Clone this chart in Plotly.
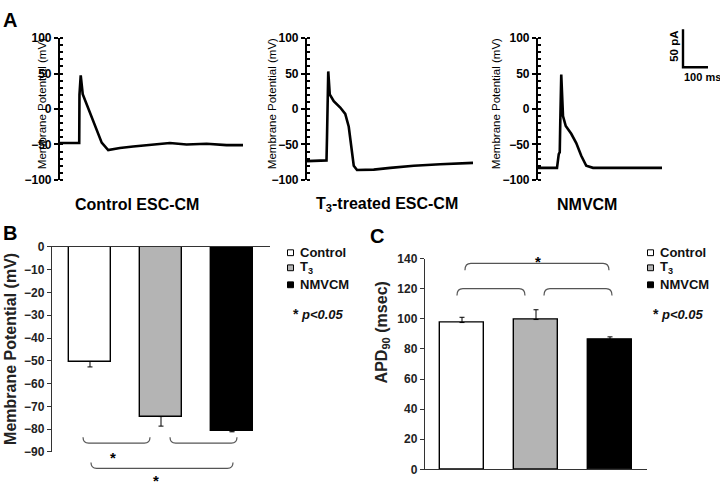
import plotly.graph_objects as go

# ---------------- data ----------------
# Panel A: action potential traces (time in ms, potential in mV)
t_control = [0, 77, 78, 83, 91, 130, 167, 193, 240, 293, 373, 440, 507, 587, 667, 733]
v_control = [-48, -48, 20, 47.5, 21, -14, -47.5, -58, -55, -53, -50, -48, -50, -49, -51, -51]

t_t3 = [0, 78, 80, 85, 91, 107, 133, 153, 167, 177, 187, 200, 267, 333, 427, 533, 664]
v_t3 = [-73.5, -72.5, -40, 53, 20.5, 11, 2, -7, -25, -57, -80, -86, -85.5, -83, -80, -78, -76]

t_nmvcm = [0, 76, 83, 87, 89, 93, 100, 111, 133, 153, 173, 193, 220, 300, 400, 496]
v_nmvcm = [-83, -83, -63.6, -61, -20, 48.6, -10, -24, -35, -48, -66, -80, -83, -83, -83, -83]

trace_titles = ["Control ESC-CM", "T<sub>3</sub>-treated ESC-CM", "NMVCM"]

# Panels B and C: group means and SEM
groups = ["Control", "T<sub>3</sub>", "NMVCM"]
group_colors = ["#ffffff", "#b4b4b4", "#000000"]
mp_values = [-50.3, -74.5, -80.8]      # membrane potential (mV)
mp_errors = [2.4, 4.2, 0.4]
apd_values = [97.5, 99.5, 86.0]        # APD90 (msec)
apd_errors = [3.5, 6.5, 2.0]

# significance brackets: (start, end) in group units
b_brackets = [(-0.098, 0.845), (1.127, 2.07), (0.014, 2.014)]
c_brackets = [(-0.068, 0.851), (1.108, 2.027), (0.04, 1.986)]

# ---------------- helpers ----------------
W, H = 720, 488
def px(x):
    return x / W
def py(y):
    return 1 - y / H

FONT = "Liberation Sans, Arial, sans-serif"
fig = go.Figure()

def label(x, y, text, size, weight="normal", angle=0, xanchor="center", color="black", style="normal"):
    fig.add_annotation(x=px(x), y=py(y), xref="paper", yref="paper", text=text,
                       textangle=angle, showarrow=False, xanchor=xanchor, yanchor="middle",
                       font=dict(family=FONT, size=size, color=color, weight=weight, style=style))

# ---------------- panel A ----------------
a_series = [(t_control, v_control), (t_t3, v_t3), (t_nmvcm, v_nmvcm)]
a_dom = [(60, 243), (307, 473), (538, 662)]
a_title_x = [42, 272, 496]
a_label_x = [137, 387, 587]
for i, ((t, v), (x0, x1)) in enumerate(zip(a_series, a_dom)):
    n = i + 1
    xa = "x" if n == 1 else f"x{n}"
    ya = "y" if n == 1 else f"y{n}"
    fig.add_trace(go.Scatter(x=t, y=v, mode="lines", line=dict(color="black", width=2.6),
                             xaxis=xa, yaxis=ya, showlegend=False, hoverinfo="skip"))
    fig.layout[f"xaxis{'' if n == 1 else n}"] = dict(
        domain=[px(x0), px(x1)], range=[0, t[-1]], visible=False, anchor=ya)
    fig.layout[f"yaxis{'' if n == 1 else n}"] = dict(
        domain=[py(178), py(32)], range=[-100, 100], anchor=xa,
        showline=True, linecolor="black", linewidth=2.2,
        ticks="outside", ticklen=4, tickwidth=2, tickcolor="black",
        dtick=50, tick0=0, showgrid=False, zeroline=False,
        minor=dict(dtick=10, ticks="inside", ticklen=3, tickwidth=1.5, tickcolor="black", showgrid=False),
        tickfont=dict(family=FONT, size=12, color="black", weight="bold"))
    label(a_title_x[i], 100, "Membrane Potential (mV)", 11.5, angle=-90)
    label(a_label_x[i], 203, trace_titles[i], 16, weight="bold")

# scale bar
fig.add_shape(type="path", xref="paper", yref="paper",
              path=f"M {px(683)} {py(23)} L {px(683)} {py(62)} L {px(708)} {py(62)}",
              line=dict(color="black", width=2.4))
label(674, 41, "50 pA", 11.5, weight="bold", angle=-90)
label(682, 72, "100 ms", 11, weight="bold", xanchor="left")

# ---------------- panel B ----------------
xs = list(range(len(groups)))
fig.add_trace(go.Bar(x=xs, y=mp_values, width=0.6, xaxis="x4", yaxis="y4",
                     marker=dict(color=group_colors, line=dict(color="black", width=1.4)),
                     error_y=dict(type="data", symmetric=False, array=[0] * 3, arrayminus=mp_errors,
                                  color="black", thickness=1, width=2.5),
                     showlegend=False, hoverinfo="skip"))
fig.layout.xaxis4 = dict(domain=[px(52), px(270)], range=[-0.535, 2.535], anchor="y4", side="top",
                         showline=True, linecolor="#333", linewidth=1.4, showticklabels=False,
                         ticks="", showgrid=False, zeroline=False)
fig.layout.yaxis4 = dict(domain=[py(458), py(247)], range=[-90, 0], anchor="x4", dtick=10,
                         showline=True, linecolor="#333", linewidth=1.4, ticks="outside",
                         ticklen=4, tickcolor="#333", showgrid=False, zeroline=False,
                         tickfont=dict(family=FONT, size=12, color="#222", weight="bold"))
label(11, 352, "Membrane Potential (mV)", 16, weight="bold", angle=-90, color="#222")

# ---------------- panel C ----------------
fig.add_trace(go.Bar(x=xs, y=apd_values, width=0.6, xaxis="x5", yaxis="y5",
                     marker=dict(color=group_colors, line=dict(color="black", width=1.4)),
                     error_y=dict(type="data", symmetric=False, array=apd_errors, arrayminus=[0] * 3,
                                  color="black", thickness=1, width=2.5),
                     showlegend=False, hoverinfo="skip"))
fig.layout.xaxis5 = dict(domain=[px(425), px(647)], range=[-0.5, 2.5], anchor="y5",
                         showline=True, linecolor="#333", linewidth=1.4, showticklabels=False,
                         ticks="", showgrid=False, zeroline=False)
fig.layout.yaxis5 = dict(domain=[py(476), py(259)], range=[0, 140], anchor="x5", dtick=20,
                         showline=True, linecolor="#333", linewidth=1.4, ticks="outside",
                         ticklen=4, tickcolor="#333", showgrid=False, zeroline=False,
                         tickfont=dict(family=FONT, size=12, color="#222", weight="bold"))
label(382, 335, "APD<sub>90</sub> (msec)", 16, weight="bold", angle=-90, color="#222")

# ---------------- brackets & stars ----------------
def brace(xa, x0, x1, y_end, y_mid, r):
    return dict(type="path", xref=xa, yref="paper",
                path=(f"M {x0} {py(y_end)} Q {x0} {py(y_mid)} {x0 + r} {py(y_mid)} "
                      f"L {x1 - r} {py(y_mid)} Q {x1} {py(y_mid)} {x1} {py(y_end)}"),
                line=dict(color="#555", width=1.2))

b_levels = [(443, 449), (443, 449), (469, 475)]
for (x0, x1), (ye, ym) in zip(b_brackets, b_levels):
    fig.add_shape(**brace("x4", x0, x1, ye, ym, 0.08))
c_levels = [(297, 290), (297, 290), (271, 264)]
for (x0, x1), (ye, ym) in zip(c_brackets, c_levels):
    fig.add_shape(**brace("x5", x0, x1, ye, ym, 0.08))

star_font = dict(family=FONT, size=15, color="black", weight="bold")
for xa, xv, yv in [("x4", 0.324, 464), ("x4", 0.93, 487), ("x5", 1.027, 262)]:
    fig.add_annotation(x=xv, y=py(yv), xref=xa, yref="paper", text="*", showarrow=False,
                       xanchor="center", yanchor="middle", font=star_font)

# ---------------- legends ----------------
for lx in (290.5, 650.5):
    for j, (name, col, ly) in enumerate(zip(groups, group_colors, [253, 268.5, 286])):
        fig.add_shape(type="rect", xref="paper", yref="paper",
                      x0=px(lx - 3), x1=px(lx + 3), y0=py(ly + 3), y1=py(ly - 3),
                      fillcolor=col, line=dict(color="black", width=1))
        label(lx + 7, ly, name, 13, weight="bold", xanchor="left", color="#111")
    label(lx + 5.5, 316, "*", 14, weight="bold", color="#111")
    label(lx + 8, 317, "p&lt;0.05", 13, weight="bold", style="italic", xanchor="left", color="#111")

# ---------------- panel letters ----------------
for letter, lx, ly in [("A", 1, 13), ("B", 1, 233), ("C", 368, 236)]:
    label(lx, ly, letter, 20, weight="bold", xanchor="left")

fig.update_layout(width=W, height=H, margin=dict(l=0, r=0, t=0, b=0),
                  paper_bgcolor="white", plot_bgcolor="white", bargap=0)
fig.write_html("out.html", config={"displayModeBar": False},
               post_script="document.body.style.margin='0px';")
